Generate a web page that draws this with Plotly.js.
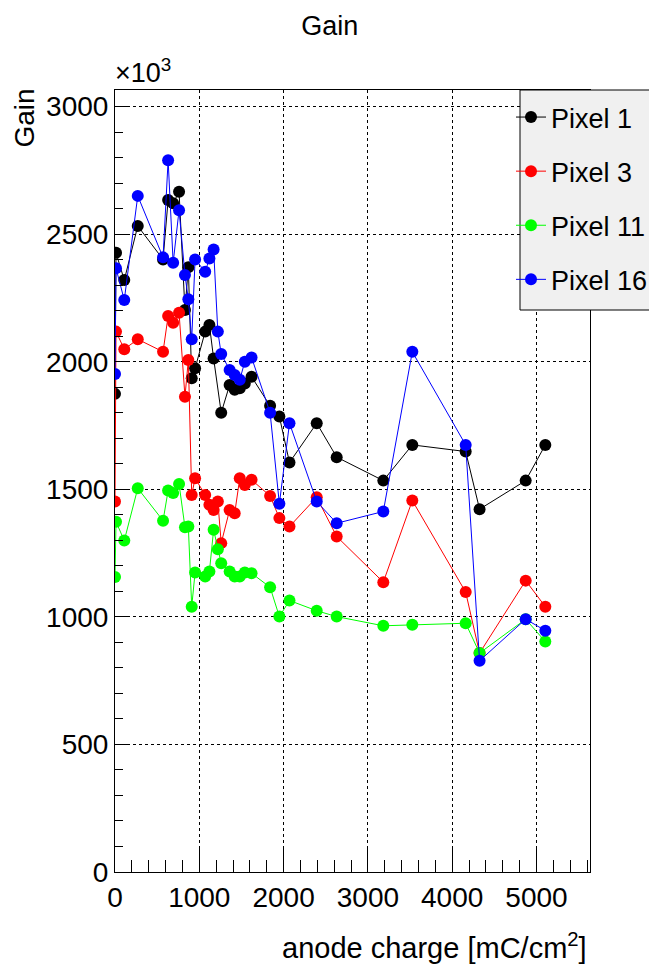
<!DOCTYPE html>
<html>
<head>
<meta charset="utf-8">
<script src="https://cdn.plot.ly/plotly-3.0.1.min.js"></script>
<style>html,body{margin:0;padding:0;background:#fff;}#chart{width:649px;height:967px;}</style>
</head>
<body>
<div id="chart"></div>
<script>
// anode charge [mC/cm^2]
const xCharge = [0, 12, 110, 270, 570, 630, 690, 760, 830, 870, 910, 950, 1070, 1120, 1170, 1220, 1260, 1360, 1420, 1480, 1540, 1620, 1840, 1950, 2070, 2393, 2630, 3183, 3527, 4160, 4325, 4872, 5105];
// Gain (x10^3)
const gainPixel1  = [1874, 2427, 2320, 2532, 2401, 2634, 2621, 2666, 2203, 2370, 1935, 1974, 2118, 2144, 2013, null, 1800, 1909, 1890, 1896, 1915, 1941, 1827, 1785, 1605, 1759, 1626, 1534, 1674, 1648, 1422, 1534, 1674];
const gainPixel3  = [1452, 2118, 2049, 2088, 2039, 2179, 2153, 2192, 1863, 2007, 1478, 1543, 1478, 1439, 1419, 1452, 1289, 1419, 1406, 1543, 1517, 1537, 1474, 1387, 1354, 1469, 1315, 1136, 1456, 1097, 858, 1142, 1040];
const gainPixel11 = [1156, 1373, 1299, 1504, 1377, 1495, 1485, 1521, 1351, 1354, 1040, 1174, 1158, 1178, 1341, 1265, 1210, 1178, 1158, 1158, 1174, 1171, 1116, 1001, 1064, 1024, 1001, 965, 969, 975, 858, 991, 903];
const gainPixel16 = [1952, 2366, 2242, 2650, 2409, 2790, 2388, 2594, 2340, 2245, 2088, 2401, 2353, 2405, 2440, 2118, 2030, 1968, 1948, 1929, 2000, 2017, 1800, 1443, 1759, 1452, 1367, 1413, 2039, 1674, 828, 991, 946];
const seriesNames = ["Pixel 1", "Pixel 3", "Pixel 11", "Pixel 16"];
const seriesColors = ["#000000", "#ff0000", "#00ff00", "#0000ff"];
const xTickVals = [0, 1000, 2000, 3000, 4000, 5000];
const yTickVals = [0, 500, 1000, 1500, 2000, 2500, 3000];

const F = "Liberation Sans, Arial, Helvetica, sans-serif";
const allY = [gainPixel1, gainPixel3, gainPixel11, gainPixel16];
const traces = allY.map((ys, i) => ({
  type: "scatter", mode: "lines+markers",
  x: xCharge, y: ys, name: seriesNames[i],
  connectgaps: true,
  legendgroup: "g" + i,
  line: {color: seriesColors[i], width: 1},
  marker: {color: seriesColors[i], size: 12, symbol: "circle"}
}));

// plot frame in px: left 115, right 590, top 90, bottom 872
const frameL = 115, frameR = 590, frameT = 90, frameB = 872;
const px2px = x => (x - frameL) / (frameR - frameL);
const py2py = y => (frameB - y) / (frameB - frameT);

const layout = {
  width: 649, height: 967,
  margin: {l: frameL, r: 649 - frameR, t: frameT, b: 967 - frameB, autoexpand: false},
  paper_bgcolor: "#ffffff", plot_bgcolor: "#ffffff",
  font: {family: F, size: 27, color: "#000"},
  title: {text: "Gain", x: 0.508, xanchor: "center", y: 0.974, yanchor: "middle", font: {family: F, size: 27, color: "#000"}},
  showlegend: true,
  legend: {
    x: px2px(511), xanchor: "left", y: py2py(93), yanchor: "top",
    bgcolor: "rgba(0,0,0,0)", borderwidth: 0,
    font: {family: F, size: 27, color: "#000"},
    traceorder: "grouped", tracegroupgap: 16, itemwidth: 30
  },
  shapes: [
    {type: "rect", xref: "paper", yref: "paper", x0: px2px(520), x1: px2px(700), y0: py2py(310), y1: 1,
     fillcolor: "#f0f0f0", line: {color: "#000", width: 1}, layer: "above"}
  ],
  xaxis: {
    range: [0, 5635], tickvals: xTickVals, ticktext: xTickVals.map(String),
    ticks: "inside", ticklen: 25, tickwidth: 1, tickcolor: "#000",
    showline: true, linecolor: "#000", linewidth: 1, mirror: true,
    showgrid: true, gridcolor: "#000", griddash: "dot", gridwidth: 1,
    zeroline: false, tickfont: {family: F, size: 28, color: "#000"},
    minor: {dtick: 200, tick0: 0, ticks: "inside", ticklen: 12, tickcolor: "#000", showgrid: false}
  },
  yaxis: {
    range: [0, 3065], tickvals: yTickVals, ticktext: yTickVals.map(String),
    ticks: "inside", ticklen: 15, tickwidth: 1, tickcolor: "#000",
    showline: true, linecolor: "#000", linewidth: 1, mirror: true,
    showgrid: true, gridcolor: "#000", griddash: "dot", gridwidth: 1,
    zeroline: false, tickfont: {family: F, size: 28, color: "#000"},
    minor: {dtick: 100, tick0: 0, ticks: "inside", ticklen: 8, tickcolor: "#000", showgrid: false}
  },
  annotations: [
    {text: "×10<sup>3</sup>", xref: "paper", yref: "paper", x: -0.005, y: 1, xanchor: "left", yanchor: "bottom", yshift: 0, showarrow: false, font: {family: F, size: 27, color: "#000"}},
    {text: "Gain", xref: "paper", yref: "paper", x: 0, xshift: -91, y: 1, yanchor: "top", yshift: 3, xanchor: "center", textangle: -90, showarrow: false, font: {family: F, size: 28, color: "#000"}},
    {text: "anode charge [mC/cm<sup>2</sup>]", xref: "paper", yref: "paper", x: 1, xshift: -1, y: 0, xanchor: "right", yanchor: "top", yshift: -54, showarrow: false, font: {family: F, size: 29, color: "#000"}}
  ]
};

Plotly.newPlot("chart", traces, layout, {displayModeBar: false, staticPlot: true});
</script>
</body>
</html>
